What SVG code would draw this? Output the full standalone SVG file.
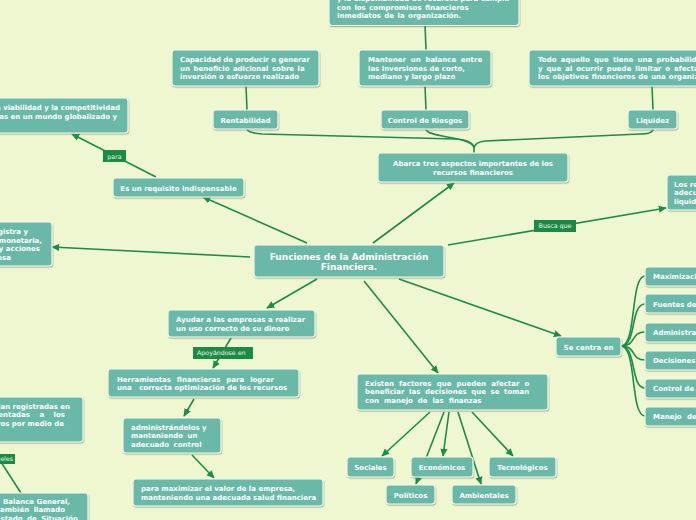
<svg xmlns="http://www.w3.org/2000/svg" width="696" height="520" viewBox="0 0 696 520">
<style>
.n rect{fill:#6BB8A7;stroke:#F4F9EC;stroke-width:1.2;filter:url(#sh)}
.n text{font-family:"DejaVu Sans",Verdana,sans-serif;font-weight:bold;font-size:7px;fill:#FFFFFF}
.m{text-anchor:middle}
.e{text-anchor:end}
.c path{fill:none;stroke:#1E8B4A;stroke-width:1.6}
.c .a{marker-end:url(#arr)}
.lb rect{fill:#1B8A45}
.lb text{font-family:"DejaVu Sans",Verdana,sans-serif;font-size:6.3px;fill:#E8F5E8}
</style>
<defs>
<filter id="sh" x="-10%" y="-20%" width="120%" height="150%">
<feDropShadow dx="0.6" dy="1.2" stdDeviation="0.6" flood-color="#6E7F68" flood-opacity="0.55"/>
</filter>
<marker id="arr" viewBox="0 0 10 10" refX="9" refY="5" markerWidth="8" markerHeight="8" markerUnits="userSpaceOnUse" orient="auto">
<path d="M0,0.5 L10,5 L0,9.5 z" fill="#1E8B4A"/>
</marker>
</defs>
<rect x="0" y="0" width="696" height="520" fill="#EEF7D0"/>

<g id="connectors" class="c">
<path class="a" d="M373,243 L454,183"/>
<path class="a" d="M307,243 L203,197"/>
<path class="a" d="M156,177 L72,134"/>
<path class="a" d="M250,257 L52,247"/>
<path class="a" d="M317,279 L267,308"/>
<path class="a" d="M231,338 L213,368"/>
<path class="a" d="M194,399 L184,416"/>
<path class="a" d="M192,455 L214,478"/>
<path class="a" d="M364,281 L438,373"/>
<path class="a" d="M399,279 L561,336"/>
<path class="a" d="M448,245 L666,208"/>
<path class="a" d="M430,412 L382,456"/>
<path class="a" d="M444,412 L416,484"/>
<path class="a" d="M449,412 L443,456"/>
<path class="a" d="M458,412 L481,484"/>
<path class="a" d="M472,412 L513,456"/>
<path d="M-10,445 L21,493"/>
<path d="M425,25 L426,50"/>
<path d="M425,86 L426,110"/>
<path d="M246,86 L247,110"/>
<path d="M652,86 L653,110"/>
<path d="M474,153 L474,148 Q473,140 455,139 L262,134 Q248,133 247,129"/>
<path d="M426,129 C426,138 473,136 474,148"/>
<path d="M653,129 Q653,134 640,134 L485,141 Q475,142 474,148"/>
<path d="M621,346 C637,346 630,276 645,276"/>
<path d="M621,346 C637,346 630,304 645,304"/>
<path d="M621,346 C637,346 630,332 645,332"/>
<path d="M621,346 C637,346 630,360 645,360"/>
<path d="M621,346 C637,346 630,388 645,388"/>
<path d="M621,346 C637,346 630,416 645,416"/>
</g>

<g id="lbl-para" class="lb"><rect x="103" y="150" width="23" height="12"/><text x="114.5" y="158.5" text-anchor="middle">para</text></g>
<g id="lbl-busca" class="lb"><rect x="534" y="220" width="42" height="12"/><text x="555" y="228.3" text-anchor="middle">Busca que</text></g>
<g id="lbl-apoy" class="lb"><rect x="193" y="347" width="60" height="12"/><text x="197" y="355.3">Apoyándose en</text></g>
<g id="lbl-eles" class="lb"><rect x="-5" y="454" width="20" height="10"/><text x="13" y="461.3" text-anchor="end">eles</text></g>

<g id="n-central" class="n"><rect x="254" y="245" width="190" height="32" rx="3"/>
<text class="m" x="349" y="259.5" style="font-size:9px">Funciones de la Administración</text>
<text class="m" x="349" y="270" style="font-size:9px">Financiera.</text></g>

<g id="n-abarca" class="n"><rect x="378" y="153" width="190" height="29" rx="3"/>
<text class="m" x="473" y="165.5">Abarca tres aspectos importantes de los</text>
<text class="m" x="473" y="174.5">recursos financieros</text></g>

<g id="n-rent" class="n"><rect x="213" y="110" width="65" height="19" rx="3"/><text class="m" x="245.5" y="122.5">Rentabilidad</text></g>
<g id="n-capac" class="n"><rect x="172" y="50" width="147" height="36" rx="3"/>
<text x="180" y="61.5">Capacidad de producir o generar</text>
<text x="180" y="70.5" style="word-spacing:1px">un beneficio adicional  sobre  la</text>
<text x="180" y="79">inversión o esfuerzo realizado</text></g>

<g id="n-control" class="n"><rect x="381" y="110" width="88" height="19" rx="3"/><text class="m" x="425" y="122.5">Control de Riesgos</text></g>
<g id="n-mantener" class="n"><rect x="359" y="50" width="132" height="36" rx="3"/>
<text x="368" y="61.5" style="word-spacing:2.3px">Mantener un balance entre</text>
<text x="368" y="70.5">las inversiones de corto,</text>
<text x="368" y="79">mediano y largo plazo</text></g>

<g id="n-top" class="n"><rect x="329" y="-12" width="190" height="37.5" rx="3"/>
<text x="337" y="1">y la disponibilidad de recursos para cumplir</text>
<text x="337" y="9.5" style="word-spacing:1px">con los compromisos financieros</text>
<text x="337" y="18" style="word-spacing:1px">inmediatos de la organización.</text></g>

<g id="n-liq" class="n"><rect x="628" y="110" width="49" height="19" rx="3"/><text class="m" x="652.5" y="122.5">Liquidez</text></g>
<g id="n-todo" class="n"><rect x="529" y="50" width="180" height="36" rx="3"/>
<text x="538" y="61.5" style="word-spacing:1.8px">Todo aquello que tiene una probabilidad</text>
<text x="538" y="70.5" style="word-spacing:1.5px">y que al ocurrir puede limitar o afectar</text>
<text x="538" y="79" style="word-spacing:0.6px">los objetivos financieros de una organización</text></g>

<g id="n-requisito" class="n"><rect x="113" y="178" width="131" height="19" rx="3"/><text class="m" x="178.5" y="190.5">Es un requisito indispensable</text></g>

<g id="n-viab" class="n"><rect x="-10" y="98" width="138" height="35" rx="3"/>
<text class="e" x="120" y="110">a viabilidad y la competitividad</text>
<text class="e" x="117" y="118.5">as en un mundo globalizado y</text></g>

<g id="n-registra" class="n"><rect x="-10" y="222" width="62" height="44" rx="3"/>
<text class="e" x="28" y="234">gistra y</text>
<text class="e" x="42" y="242.5">monetaria,</text>
<text class="e" x="40" y="251">y acciones</text>
<text class="e" x="11" y="259.5">esa</text></g>

<g id="n-ayudar" class="n"><rect x="168" y="310" width="147" height="27" rx="3"/>
<text x="176" y="321.5">Ayudar a las empresas a realizar</text>
<text x="176" y="330.5">un uso correcto de su dinero</text></g>

<g id="n-herr" class="n"><rect x="108" y="369" width="191" height="28" rx="3"/>
<text x="117" y="381.5" style="word-spacing:3.5px">Herramientas financieras para lograr</text>
<text x="117" y="390"><tspan style="word-spacing:5px">una correcta</tspan> optimización de los recursos</text></g>

<g id="n-admin" class="n"><rect x="123" y="418" width="98" height="35" rx="3"/>
<text x="131" y="429.5">administrándolos y</text>
<text x="131" y="438" style="word-spacing:2px">manteniendo un</text>
<text x="131" y="446.5" style="word-spacing:2px">adecuado control</text></g>

<g id="n-paramax" class="n"><rect x="133" y="479" width="190" height="27" rx="3"/>
<text x="141" y="490.5">para maximizar el valor de la empresa,</text>
<text x="141" y="499.5">manteniendo una adecuada salud financiera</text></g>

<g id="n-registradas" class="n"><rect x="-10" y="397" width="93" height="45" rx="3"/>
<text class="e" x="70" y="408.5">lan registradas en</text>
<text class="e" x="65" y="417" style="word-spacing:7px">entadas a los</text>
<text class="e" x="64" y="425.5">ros por medio de</text></g>

<g id="n-balance" class="n"><rect x="-10" y="493" width="98" height="40" rx="3"/>
<text class="e" x="70" y="503.5">Balance General,</text>
<text class="e" x="65" y="512" style="word-spacing:2px">también llamado</text>
<text class="e" x="78" y="520.5" style="word-spacing:2px">Estado de Situación</text></g>

<g id="n-existen" class="n"><rect x="357" y="374" width="191" height="36" rx="3"/>
<text x="365" y="385.5" style="word-spacing:2.7px">Existen factores que pueden afectar o</text>
<text x="365" y="394" style="word-spacing:2.2px">beneficiar las decisiones que se toman</text>
<text x="365" y="402.5" style="word-spacing:2.5px">con manejo de las finanzas</text></g>

<g id="n-sociales" class="n"><rect x="347" y="457" width="47" height="20" rx="3"/><text class="m" x="370.5" y="469.5">Sociales</text></g>
<g id="n-economicos" class="n"><rect x="411" y="457" width="62" height="20" rx="3"/><text class="m" x="442" y="469.5">Económicos</text></g>
<g id="n-tecno" class="n"><rect x="489" y="457" width="67" height="20" rx="3"/><text class="m" x="522.5" y="469.5">Tecnológicos</text></g>
<g id="n-politicos" class="n"><rect x="386" y="485" width="49" height="19" rx="3"/><text class="m" x="410.5" y="497.5">Políticos</text></g>
<g id="n-ambientales" class="n"><rect x="452" y="485" width="64" height="19" rx="3"/><text class="m" x="484" y="497.5">Ambientales</text></g>

<g id="n-centra" class="n"><rect x="556" y="337" width="65" height="19" rx="3"/><text class="m" x="588.5" y="349.5">Se centra en</text></g>

<g id="n-max" class="n"><rect x="645" y="267" width="70" height="19" rx="3"/><text x="653" y="279">Maximización</text></g>
<g id="n-fuentes" class="n"><rect x="645" y="294" width="70" height="19" rx="3"/><text x="653" y="306.5">Fuentes de</text></g>
<g id="n-adminis" class="n"><rect x="645" y="323" width="70" height="19" rx="3"/><text x="653" y="335">Administración</text></g>
<g id="n-decisiones" class="n"><rect x="645" y="351" width="70" height="19" rx="3"/><text x="653" y="363">Decisiones</text></g>
<g id="n-controlde" class="n"><rect x="645" y="379" width="70" height="19" rx="3"/><text x="653" y="391">Control de</text></g>
<g id="n-manejo" class="n"><rect x="645" y="407" width="70" height="19" rx="3"/><text x="653" y="419" style="word-spacing:3px">Manejo de</text></g>

<g id="n-losrec" class="n"><rect x="667" y="175" width="40" height="35" rx="3"/>
<text x="674" y="186.5">Los recursos</text>
<text x="674" y="195">adecuados</text>
<text x="674" y="203.5">liquidez</text></g>
</svg>
